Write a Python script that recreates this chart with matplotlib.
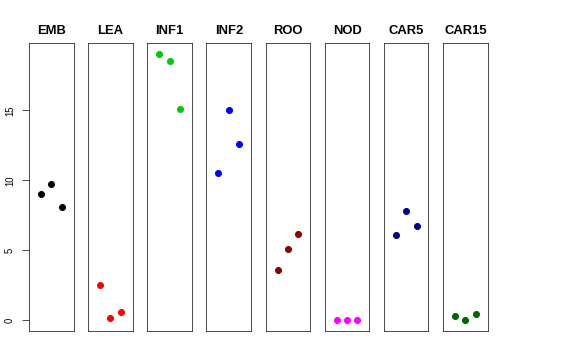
import matplotlib
matplotlib.use("Agg")
import matplotlib.pyplot as plt

plt.rcParams["font.family"] = ["Liberation Sans", "DejaVu Sans"]

groups = ["EMB", "LEA", "INF1", "INF2", "ROO", "NOD", "CAR5", "CAR15"]
colors = ["#000000", "#FF0000", "#00CD00", "#0000FF", "#8B0000", "#FF00FF", "#00008B", "#006400"]

emb = [9.05, 9.74, 8.10]
lea = [2.55, 0.19, 0.57]
inf1 = [19.02, 18.55, 15.07]
inf2 = [10.55, 15.02, 12.62]
roo = [3.57, 5.07, 6.14]
nod = [0.0, 0.0, 0.0]
car5 = [6.12, 7.83, 6.74]
car15 = [0.31, 0.05, 0.45]
values = [emb, lea, inf1, inf2, roo, nod, car5, car15]
reps = [1, 2, 3]
yticks = [0, 5, 10, 15]

W, H = 576, 360
fig = plt.figure(figsize=(W / 72, H / 72), dpi=72)

ymin, ymax = 0.0, 19.02
yr = ymax - ymin
left0, step, width = 29.0, 59.15, 44.6
top_px, bot_px = 43.3, 331.0

for i, (name, col, vals) in enumerate(zip(groups, colors, values)):
    ax = fig.add_axes([(left0 + i * step) / W, (H - bot_px) / H,
                       width / W, (bot_px - top_px) / H])
    ax.plot(reps, vals, "o", color=col, ms=6, mec=col, clip_on=False)
    ax.set_xlim(-0.16, 4.16)
    ax.set_ylim(ymin - 0.04 * yr, ymax + 0.04 * yr)
    ax.set_xticks([])
    for s in ax.spines.values():
        s.set_linewidth(0.8)
        s.set_color("#222222")
    ax.set_title(name, fontsize=13, fontweight="bold", pad=9)
    if i == 0:
        ax.set_yticks(yticks)
        ax.set_yticklabels([str(t) for t in yticks], rotation=90, va="center", fontsize=9.5)
        ax.tick_params(axis="y", length=7, width=0.8, pad=7, color="#222222")
    else:
        ax.set_yticks([])

fig.savefig("out.png", dpi=72)
